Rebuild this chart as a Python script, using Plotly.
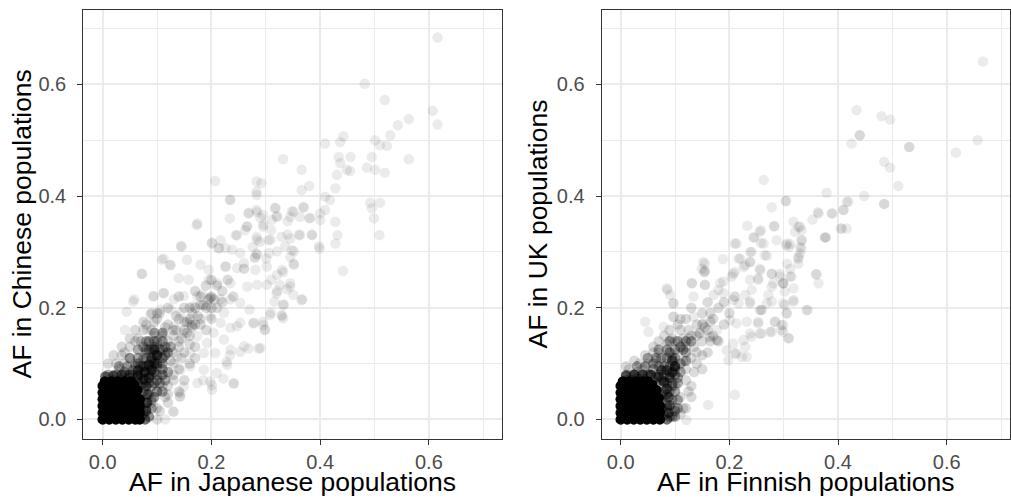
import plotly.graph_objects as go

# ---------------- data ----------------
tick_vals = [0.0, 0.2, 0.4, 0.6]
tick_text = ["0.0", "0.2", "0.4", "0.6"]

# Left panel: AF Japanese (x) vs AF Chinese (y)
left_sparse = [
    (0.616, 0.684), (0.482, 0.601), (0.519, 0.572), (0.607, 0.553), (0.616, 0.528),
    (0.563, 0.538), (0.543, 0.527), (0.529, 0.509), (0.501, 0.500), (0.510, 0.491),
    (0.523, 0.490), (0.443, 0.507), (0.437, 0.497), (0.409, 0.494), (0.495, 0.470),
    (0.456, 0.470), (0.434, 0.470), (0.437, 0.459), (0.563, 0.466), (0.486, 0.451),
    (0.501, 0.447), (0.519, 0.442), (0.455, 0.445), (0.449, 0.447), (0.431, 0.438),
    (0.332, 0.466), (0.366, 0.447), (0.380, 0.418), (0.366, 0.411), (0.428, 0.414),
    (0.409, 0.399), (0.418, 0.393), (0.400, 0.369), (0.409, 0.375), (0.492, 0.388),
    (0.510, 0.388), (0.495, 0.378), (0.499, 0.360), (0.509, 0.330), (0.400, 0.357),
    (0.428, 0.354), (0.432, 0.330), (0.428, 0.315), (0.399, 0.306), (0.442, 0.266),
    (0.385, 0.330), (0.363, 0.330), (0.380, 0.360), (0.369, 0.381), (0.351, 0.372),
    (0.345, 0.363), (0.363, 0.363), (0.207, 0.427), (0.283, 0.426), (0.292, 0.423),
    (0.283, 0.408), (0.283, 0.402), (0.234, 0.393), (0.234, 0.360), (0.173, 0.348),
    (0.268, 0.369), (0.283, 0.375), (0.295, 0.366), (0.317, 0.378), (0.320, 0.363),
    (0.311, 0.357), (0.295, 0.345), (0.310, 0.339), (0.329, 0.327), (0.345, 0.324),
    (0.348, 0.303), (0.345, 0.291), (0.351, 0.279), (0.283, 0.327), (0.289, 0.318),
    (0.305, 0.321), (0.276, 0.309), (0.283, 0.297), (0.301, 0.288), (0.247, 0.330),
    (0.262, 0.339), (0.265, 0.345), (0.201, 0.315), (0.213, 0.306), (0.145, 0.309),
    (0.112, 0.288), (0.124, 0.276), (0.072, 0.261), (0.072, 0.261), (0.332, 0.264),
    (0.310, 0.250), (0.326, 0.241), (0.345, 0.238), (0.351, 0.223), (0.366, 0.214),
    (0.320, 0.226), (0.316, 0.211), (0.332, 0.205), (0.329, 0.187), (0.332, 0.181),
    (0.308, 0.187), (0.295, 0.175), (0.298, 0.160), (0.295, 0.169), (0.277, 0.172),
    (0.287, 0.127), (0.268, 0.127), (0.253, 0.121), (0.234, 0.115), (0.228, 0.103),
    (0.241, 0.064), (0.222, 0.073), (0.201, 0.061), (0.201, 0.053), (0.185, 0.070),
    (0.115, 0.000), (0.130, 0.014), (0.130, 0.014), (0.142, 0.041), (0.142, 0.041),
    (0.044, 0.193), (0.041, 0.160), (0.056, 0.211), (0.093, 0.220), (0.112, 0.226),
    (0.174, 0.351), (0.235, 0.394), (0.144, 0.311), (0.201, 0.317), (0.217, 0.321),
    (0.245, 0.330), (0.269, 0.370), (0.284, 0.371), (0.290, 0.361), (0.296, 0.349),
    (0.266, 0.346), (0.318, 0.379), (0.321, 0.364), (0.340, 0.355), (0.348, 0.373),
    (0.370, 0.379), (0.382, 0.361), (0.385, 0.331), (0.361, 0.331), (0.340, 0.331),
    (0.309, 0.322), (0.284, 0.322), (0.336, 0.310), (0.352, 0.301), (0.321, 0.301),
    (0.306, 0.298), (0.284, 0.295), (0.253, 0.298), (0.238, 0.304), (0.226, 0.307),
    (0.214, 0.307), (0.398, 0.310), (0.352, 0.277), (0.330, 0.268), (0.321, 0.259),
    (0.302, 0.274), (0.281, 0.268), (0.260, 0.280), (0.247, 0.271), (0.226, 0.274),
    (0.226, 0.274), (0.195, 0.268), (0.180, 0.277), (0.155, 0.286), (0.125, 0.277),
    (0.109, 0.286), (0.345, 0.244), (0.339, 0.233), (0.321, 0.230), (0.302, 0.241),
    (0.367, 0.215), (0.333, 0.206), (0.309, 0.191), (0.330, 0.185), (0.299, 0.161),
    (0.278, 0.173), (0.290, 0.128), (0.241, 0.065), (0.058, 0.215), (0.140, 0.253),
    (0.158, 0.250), (0.195, 0.250), (0.211, 0.244), (0.235, 0.244), (0.266, 0.238),
    (0.284, 0.241), (0.198, 0.218), (0.198, 0.218), (0.174, 0.221), (0.183, 0.224),
    (0.217, 0.215), (0.235, 0.215), (0.253, 0.209), (0.270, 0.197), (0.253, 0.173),
    (0.235, 0.164), (0.247, 0.167), (0.217, 0.173), (0.198, 0.185), (0.161, 0.173),
    (0.143, 0.191), (0.125, 0.197), (0.106, 0.197), (0.088, 0.188), (0.112, 0.227),
    (0.094, 0.221), (0.149, 0.221), (0.131, 0.215), (0.167, 0.203), (0.192, 0.203),
    (0.223, 0.191), (0.204, 0.155), (0.223, 0.143), (0.192, 0.137), (0.174, 0.149),
    (0.149, 0.155), (0.131, 0.167), (0.112, 0.155), (0.094, 0.149), (0.082, 0.161),
    (0.260, 0.131), (0.235, 0.125), (0.207, 0.119), (0.186, 0.119), (0.161, 0.119),
    (0.137, 0.113), (0.118, 0.119), (0.100, 0.131), (0.229, 0.098), (0.210, 0.083),
    (0.186, 0.089), (0.161, 0.095), (0.143, 0.089), (0.198, 0.068), (0.174, 0.065),
    (0.149, 0.059), (0.143, 0.047), (0.164, 0.169), (0.164, 0.169),
]
left_mid = [
    (0.06, 0.10), (0.05, 0.11), (0.07, 0.14), (0.09, 0.16), (0.10, 0.18), (0.12, 0.17),
    (0.13, 0.15), (0.14, 0.13), (0.15, 0.16), (0.16, 0.18), (0.17, 0.20), (0.18, 0.22),
    (0.20, 0.22), (0.19, 0.20), (0.21, 0.24), (0.14, 0.18), (0.12, 0.14), (0.13, 0.10),
    (0.11, 0.08), (0.10, 0.05), (0.09, 0.03), (0.10, 0.02), (0.12, 0.06), (0.14, 0.09),
    (0.15, 0.12), (0.16, 0.15), (0.18, 0.17), (0.20, 0.18), (0.22, 0.21), (0.23, 0.25),
    (0.17, 0.13), (0.08, 0.12), (0.03, 0.09), (0.02, 0.08), (0.11, 0.11), (0.09, 0.09),
    (0.115, 0.04), (0.13, 0.07), (0.16, 0.10), (0.24, 0.22), (0.26, 0.27), (0.28, 0.29),
    (0.19, 0.24), (0.13, 0.16), (0.11, 0.15), (0.15, 0.20), (0.17, 0.23), (0.20, 0.25),
    (0.14, 0.22), (0.12, 0.20), (0.10, 0.19), (0.08, 0.17), (0.06, 0.14), (0.04, 0.12),
    (0.18, 0.18), (0.21, 0.20), (0.19, 0.16), (0.17, 0.11), (0.15, 0.07), (0.12, 0.03),
    (0.14, 0.05), (0.085, 0.005), (0.10, 0.00), (0.05, 0.13), (0.16, 0.20), (0.22, 0.23),
    (0.20, 0.20), (0.13, 0.12), (0.11, 0.06), (0.105, 0.10), (0.125, 0.105), (0.145, 0.145),
    (0.155, 0.175), (0.165, 0.165), (0.185, 0.205), (0.175, 0.185), (0.195, 0.215),
    (0.205, 0.215), (0.115, 0.165), (0.095, 0.175), (0.135, 0.185),
    (0.01, 0.10), (0.025, 0.10), (0.04, 0.10), (0.02, 0.115), (0.035, 0.115),
    (0.035, 0.13), (0.05, 0.145), (0.065, 0.145), (0.06, 0.16), (0.075, 0.16),
    (0.075, 0.175), (0.09, 0.19), (0.105, 0.19), (0.135, 0.16), (0.15, 0.175),
    (0.165, 0.19), (0.18, 0.205), (0.14, 0.14), (0.155, 0.155), (0.17, 0.17),
    (0.105, 0.015), (0.12, 0.045), (0.13, 0.08), (0.145, 0.11), (0.16, 0.135),
]
left_dark = [
    (0.065, 0.07), (0.07, 0.06), (0.075, 0.05), (0.07, 0.035), (0.07, 0.02),
    (0.065, 0.008), (0.075, 0.01), (0.08, 0.03), (0.085, 0.045), (0.08, 0.07),
    (0.085, 0.08), (0.075, 0.085), (0.065, 0.08), (0.05, 0.075), (0.035, 0.072),
    (0.02, 0.07), (0.008, 0.065), (0.055, 0.088), (0.07, 0.095), (0.09, 0.095),
    (0.095, 0.085), (0.10, 0.10), (0.09, 0.105), (0.08, 0.11), (0.10, 0.115),
    (0.11, 0.11), (0.105, 0.125), (0.095, 0.13), (0.085, 0.125), (0.115, 0.13),
    (0.12, 0.12), (0.09, 0.06), (0.10, 0.07), (0.11, 0.09), (0.10, 0.14),
    (0.085, 0.14), (0.075, 0.13), (0.065, 0.10), (0.04, 0.085), (0.09, 0.02),
    (0.095, 0.04),
    (0.085, 0.005), (0.08, 0.02), (0.09, 0.035), (0.10, 0.05), (0.11, 0.05),
    (0.005, 0.065), (0.02, 0.065), (0.035, 0.065), (0.05, 0.065), (0.065, 0.065),
    (0.075, 0.065), (0.085, 0.065), (0.095, 0.065), (0.105, 0.065), (0.115, 0.07),
    (0.01, 0.08), (0.025, 0.08), (0.04, 0.08), (0.055, 0.08), (0.07, 0.08),
    (0.09, 0.08), (0.10, 0.08), (0.11, 0.08), (0.12, 0.085), (0.03, 0.095),
    (0.045, 0.095), (0.06, 0.095), (0.08, 0.095), (0.10, 0.095), (0.11, 0.10),
    (0.05, 0.11), (0.065, 0.11), (0.075, 0.11), (0.095, 0.115), (0.115, 0.115),
    (0.065, 0.125), (0.08, 0.125), (0.09, 0.125), (0.11, 0.125), (0.125, 0.13),
    (0.08, 0.14), (0.095, 0.14), (0.11, 0.14), (0.095, 0.155), (0.11, 0.155),
]
left_ring = [
    (0.078, 0.000), (0.080, 0.015), (0.082, 0.030), (0.082, 0.045), (0.080, 0.060),
    (0.075, 0.072), (0.065, 0.078), (0.050, 0.080), (0.035, 0.080), (0.020, 0.078),
    (0.005, 0.077), (0.085, 0.075), (0.078, 0.085), (0.090, 0.088), (0.085, 0.098),
    (0.095, 0.100), (0.090, 0.110), (0.100, 0.115), (0.095, 0.125), (0.065, 0.088),
    (0.075, 0.095),
]
left_core = [
    (0.000, 0.000), (0.012, 0.000), (0.024, 0.000), (0.036, 0.000), (0.048, 0.000),
    (0.060, 0.000), (0.068, 0.000),
    (0.000, 0.012), (0.012, 0.012), (0.024, 0.012), (0.036, 0.012), (0.048, 0.012),
    (0.060, 0.012), (0.068, 0.012),
    (0.000, 0.024), (0.012, 0.024), (0.024, 0.024), (0.036, 0.024), (0.048, 0.024),
    (0.060, 0.024), (0.068, 0.024),
    (0.000, 0.036), (0.012, 0.036), (0.024, 0.036), (0.036, 0.036), (0.048, 0.036),
    (0.060, 0.036), (0.068, 0.036),
    (0.000, 0.048), (0.012, 0.048), (0.024, 0.048), (0.036, 0.048), (0.048, 0.048),
    (0.060, 0.048), (0.064, 0.052),
    (0.000, 0.060), (0.012, 0.060), (0.024, 0.060), (0.036, 0.060), (0.048, 0.060),
    (0.058, 0.062),
    (0.004, 0.068), (0.016, 0.068), (0.028, 0.068), (0.040, 0.068), (0.052, 0.068),
]

# Right panel: AF Finnish (x) vs AF UK (y)
right_sparse = [
    (0.667, 0.641), (0.434, 0.554), (0.480, 0.543), (0.496, 0.537), (0.440, 0.509),
    (0.440, 0.509), (0.425, 0.494), (0.531, 0.488), (0.531, 0.488), (0.657, 0.500),
    (0.617, 0.478), (0.485, 0.461), (0.496, 0.451), (0.511, 0.418), (0.448, 0.400),
    (0.485, 0.386), (0.485, 0.386), (0.419, 0.390), (0.410, 0.375), (0.407, 0.342),
    (0.416, 0.342), (0.379, 0.406), (0.390, 0.369), (0.363, 0.371), (0.353, 0.358),
    (0.376, 0.326), (0.378, 0.326), (0.304, 0.391), (0.304, 0.391), (0.278, 0.380),
    (0.263, 0.429), (0.233, 0.347), (0.283, 0.346), (0.318, 0.354), (0.327, 0.345),
    (0.333, 0.339), (0.321, 0.336), (0.258, 0.339), (0.246, 0.326), (0.258, 0.316),
    (0.210, 0.315), (0.287, 0.321), (0.304, 0.312), (0.310, 0.309), (0.330, 0.309),
    (0.333, 0.321), (0.327, 0.291), (0.327, 0.279), (0.241, 0.300), (0.265, 0.294),
    (0.217, 0.288), (0.238, 0.282), (0.257, 0.267), (0.306, 0.279), (0.312, 0.270),
    (0.361, 0.260), (0.364, 0.244), (0.278, 0.261), (0.293, 0.256), (0.314, 0.256),
    (0.299, 0.244), (0.299, 0.244), (0.278, 0.238), (0.272, 0.223), (0.302, 0.229),
    (0.318, 0.211), (0.302, 0.205), (0.305, 0.190), (0.344, 0.196), (0.278, 0.211),
    (0.284, 0.175), (0.299, 0.169), (0.296, 0.160), (0.309, 0.146), (0.278, 0.157),
    (0.210, 0.044), (0.161, 0.026), (0.121, -0.001), (0.149, 0.270), (0.155, 0.279),
    (0.154, 0.264), (0.154, 0.264), (0.131, 0.244), (0.086, 0.232), (0.091, 0.223),
    (0.097, 0.208), (0.097, 0.208), (0.045, 0.175), (0.051, 0.157), (0.180, 0.232),
    (0.189, 0.247), (0.204, 0.256), (0.210, 0.264), (0.229, 0.276), (0.253, 0.253),
    (0.241, 0.232), (0.229, 0.223), (0.217, 0.208), (0.238, 0.211), (0.259, 0.196),
    (0.259, 0.196), (0.253, 0.175), (0.259, 0.154), (0.241, 0.148), (0.229, 0.130),
    (0.223, 0.112), (0.210, 0.118), (0.198, 0.106),
    (0.364, 0.369), (0.388, 0.369), (0.410, 0.375), (0.416, 0.390), (0.330, 0.345),
    (0.282, 0.346), (0.256, 0.336), (0.244, 0.326), (0.263, 0.315), (0.306, 0.315),
    (0.312, 0.314), (0.333, 0.321), (0.333, 0.306), (0.330, 0.297), (0.327, 0.288),
    (0.376, 0.326), (0.405, 0.342), (0.213, 0.315), (0.238, 0.300), (0.269, 0.293),
    (0.220, 0.288), (0.238, 0.282), (0.188, 0.287), (0.152, 0.282), (0.155, 0.267),
    (0.207, 0.261), (0.226, 0.273), (0.256, 0.270), (0.278, 0.261), (0.293, 0.261),
    (0.312, 0.256), (0.359, 0.260), (0.299, 0.244), (0.281, 0.244), (0.318, 0.235),
    (0.238, 0.250), (0.253, 0.250), (0.183, 0.244), (0.155, 0.241), (0.155, 0.241),
    (0.131, 0.244), (0.085, 0.235), (0.134, 0.220), (0.171, 0.223), (0.189, 0.226),
    (0.207, 0.214), (0.238, 0.208), (0.256, 0.196), (0.269, 0.208), (0.299, 0.208),
    (0.306, 0.190), (0.342, 0.196), (0.318, 0.214), (0.284, 0.175), (0.296, 0.169),
    (0.299, 0.157), (0.309, 0.145), (0.275, 0.157), (0.256, 0.154), (0.253, 0.172),
    (0.238, 0.154), (0.232, 0.175), (0.213, 0.172), (0.201, 0.178), (0.177, 0.160),
    (0.164, 0.148), (0.164, 0.148), (0.177, 0.142), (0.177, 0.142), (0.146, 0.154),
    (0.115, 0.136), (0.091, 0.142), (0.079, 0.166), (0.097, 0.184), (0.097, 0.184),
    (0.134, 0.184), (0.152, 0.172), (0.232, 0.112), (0.213, 0.118), (0.195, 0.124),
    (0.207, 0.136), (0.226, 0.142),
]
right_mid = [
    (0.05, 0.10), (0.06, 0.12), (0.07, 0.14), (0.08, 0.10), (0.09, 0.12), (0.10, 0.14),
    (0.11, 0.16), (0.12, 0.13), (0.13, 0.15), (0.14, 0.17), (0.15, 0.19), (0.16, 0.16),
    (0.17, 0.18), (0.18, 0.20), (0.14, 0.12), (0.12, 0.09), (0.10, 0.06), (0.11, 0.04),
    (0.10, 0.02), (0.12, 0.02), (0.13, 0.06), (0.15, 0.09), (0.16, 0.12), (0.18, 0.14),
    (0.19, 0.17), (0.20, 0.19), (0.04, 0.09), (0.03, 0.085), (0.02, 0.08), (0.11, 0.18),
    (0.13, 0.20), (0.16, 0.21), (0.09, 0.16), (0.15, 0.14), (0.13, 0.11), (0.17, 0.15),
    (0.12, 0.18), (0.21, 0.22), (0.065, 0.105), (0.085, 0.135), (0.105, 0.12),
    (0.125, 0.145), (0.145, 0.155), (0.115, 0.105), (0.135, 0.13), (0.155, 0.165),
    (0.165, 0.19), (0.105, 0.17), (0.08, 0.15), (0.06, 0.13), (0.14, 0.10), (0.12, 0.07),
    (0.11, 0.01), (0.13, 0.04), (0.015, 0.09), (0.035, 0.10), (0.19, 0.21),
    (0.01, 0.095), (0.025, 0.105), (0.045, 0.115), (0.07, 0.12), (0.095, 0.145),
    (0.115, 0.145), (0.125, 0.16), (0.14, 0.15), (0.15, 0.17), (0.165, 0.175),
    (0.115, 0.02), (0.125, 0.05), (0.135, 0.085), (0.15, 0.115), (0.165, 0.14),
]
right_dark = [
    (0.08, 0.065), (0.085, 0.045), (0.085, 0.025), (0.08, 0.008), (0.09, 0.08),
    (0.10, 0.09), (0.095, 0.06), (0.07, 0.08), (0.05, 0.08), (0.03, 0.075),
    (0.012, 0.07), (0.06, 0.09), (0.08, 0.095), (0.10, 0.11), (0.11, 0.10),
    (0.12, 0.12), (0.105, 0.075), (0.095, 0.035), (0.09, 0.12), (0.075, 0.11),
    (0.11, 0.13), (0.13, 0.14), (0.10, 0.015), (0.075, 0.07), (0.078, 0.04),
    (0.075, 0.02), (0.065, 0.075), (0.04, 0.072), (0.02, 0.07), (0.09, 0.095),
    (0.06, 0.10), (0.085, 0.11), (0.095, 0.005),
    (0.07, 0.005), (0.09, 0.005), (0.10, 0.005), (0.075, 0.02), (0.085, 0.02),
    (0.105, 0.02), (0.075, 0.035), (0.105, 0.035), (0.07, 0.05), (0.08, 0.05),
    (0.09, 0.05), (0.10, 0.05), (0.005, 0.065), (0.02, 0.065), (0.035, 0.065),
    (0.05, 0.065), (0.065, 0.065), (0.085, 0.065), (0.095, 0.065), (0.105, 0.065),
    (0.01, 0.08), (0.025, 0.08), (0.04, 0.08), (0.055, 0.08), (0.08, 0.08),
    (0.10, 0.08), (0.11, 0.085), (0.03, 0.095), (0.045, 0.095), (0.07, 0.095),
    (0.10, 0.095), (0.05, 0.11), (0.065, 0.11), (0.095, 0.11), (0.12, 0.105),
    (0.07, 0.125), (0.085, 0.125), (0.10, 0.125), (0.115, 0.125), (0.09, 0.14),
    (0.105, 0.14), (0.12, 0.14),
]
right_ring = [
    (0.085, 0.000), (0.088, 0.012), (0.090, 0.025), (0.088, 0.040), (0.085, 0.055),
    (0.080, 0.068), (0.070, 0.076), (0.055, 0.080), (0.040, 0.080), (0.025, 0.080),
    (0.010, 0.078), (0.090, 0.075), (0.095, 0.085), (0.085, 0.088), (0.100, 0.095),
    (0.095, 0.105), (0.075, 0.088),
]
right_core = [
    (0.000, 0.000), (0.012, 0.000), (0.024, 0.000), (0.036, 0.000), (0.048, 0.000),
    (0.060, 0.000), (0.072, 0.000),
    (0.000, 0.012), (0.012, 0.012), (0.024, 0.012), (0.036, 0.012), (0.048, 0.012),
    (0.060, 0.012), (0.072, 0.012),
    (0.000, 0.024), (0.012, 0.024), (0.024, 0.024), (0.036, 0.024), (0.048, 0.024),
    (0.060, 0.024), (0.072, 0.024),
    (0.000, 0.036), (0.012, 0.036), (0.024, 0.036), (0.036, 0.036), (0.048, 0.036),
    (0.060, 0.036), (0.070, 0.038),
    (0.000, 0.048), (0.012, 0.048), (0.024, 0.048), (0.036, 0.048), (0.048, 0.048),
    (0.060, 0.048), (0.066, 0.052),
    (0.000, 0.060), (0.012, 0.060), (0.024, 0.060), (0.036, 0.060), (0.048, 0.060),
    (0.058, 0.062),
    (0.004, 0.068), (0.016, 0.068), (0.028, 0.068), (0.040, 0.068), (0.050, 0.068),
]

x_titles = ["AF in Japanese populations", "AF in Finnish populations"]
y_titles = ["AF in Chinese populations", "AF in UK populations"]

# ---------------- figure ----------------
W, H = 1011, 501
FONT = "Liberation Sans, Arial, Helvetica, sans-serif"
MSIZE = 10.5

fig = go.Figure()

layers = [("sparse", 0.08), ("mid", 0.14), ("dark", 0.32), ("ring", 0.55), ("core", 1.0)]
panels = [
    (dict(sparse=left_sparse, mid=left_mid, dark=left_dark, ring=left_ring, core=left_core),
     "x", "y"),
    (dict(sparse=right_sparse, mid=right_mid, dark=right_dark, ring=right_ring, core=right_core),
     "x2", "y2"),
]
for data, xa, ya in panels:
    for name, alpha in layers:
        pts = data[name]
        fig.add_trace(go.Scatter(
            x=[p[0] for p in pts], y=[p[1] for p in pts],
            xaxis=xa, yaxis=ya, mode="markers", hoverinfo="skip", showlegend=False,
            marker=dict(size=MSIZE, color="black", opacity=alpha, line=dict(width=0)),
        ))

def px_x(p):
    return p / W

def px_y(p):
    return 1 - p / H

axis_common = dict(
    showgrid=True, gridcolor="#ebebeb", gridwidth=1.6,
    minor=dict(dtick=0.1, tick0=0, showgrid=True, gridcolor="#ebebeb", gridwidth=0.8),
    zeroline=False, showline=True, mirror=True, linecolor="#333333", linewidth=1.1,
    ticks="outside", ticklen=5, tickwidth=1.1, tickcolor="#333333",
    tickvals=tick_vals, ticktext=tick_text,
    tickfont=dict(family=FONT, size=20, color="#4d4d4d"),
)

ydom = [px_y(439), px_y(10)]
fig.update_layout(
    width=W, height=H, margin=dict(l=0, r=0, t=0, b=0),
    paper_bgcolor="white", plot_bgcolor="white",
    xaxis=dict(domain=[px_x(83.3), px_x(501.7)], range=[-0.0357, 0.734], anchor="y",
               ticklabelstandoff=0, **axis_common),
    yaxis=dict(domain=ydom, range=[-0.0351, 0.7333], anchor="x",
               ticklabelstandoff=7, **axis_common),
    xaxis2=dict(domain=[px_x(601.7), px_x(1010.4)], range=[-0.035, 0.7173], anchor="y2",
                ticklabelstandoff=0, **axis_common),
    yaxis2=dict(domain=ydom, range=[-0.0351, 0.7333], anchor="x2",
                ticklabelstandoff=7, **axis_common),
)

title_font = dict(family=FONT, size=26.5, color="black")
for cx, t in [((83.3 + 501.7) / 2, x_titles[0]), ((601.7 + 1010.4) / 2, x_titles[1])]:
    fig.add_annotation(text=t, x=px_x(cx), y=px_y(482), xref="paper", yref="paper",
                       showarrow=False, font=title_font, xanchor="center", yanchor="middle")
for cx, t in [(22, y_titles[0]), (538, y_titles[1])]:
    fig.add_annotation(text=t, x=px_x(cx), y=px_y(224.5), xref="paper", yref="paper",
                       showarrow=False, font=title_font, textangle=-90,
                       xanchor="center", yanchor="middle")

fig.write_html("out.html", config={"displayModeBar": False},
               post_script="document.body.style.margin='0';")
